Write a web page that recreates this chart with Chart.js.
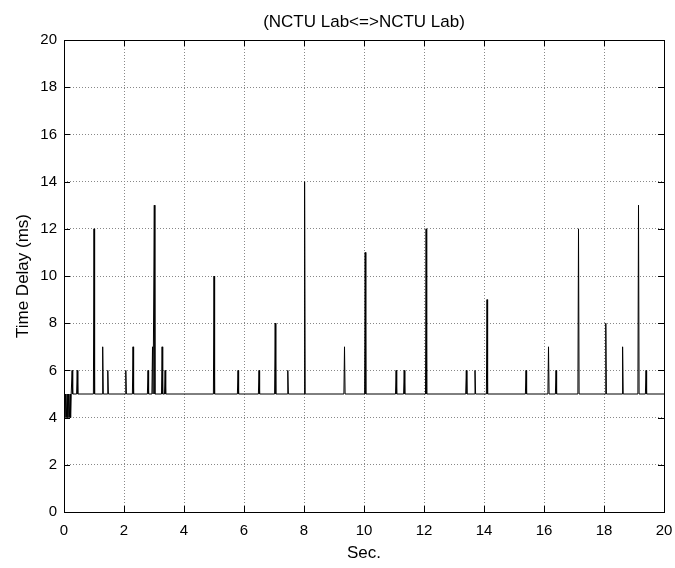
<!DOCTYPE html>
<html>
<head>
<meta charset="utf-8">
<script src="https://cdn.jsdelivr.net/npm/chart.js@4"></script>
<style>
  html, body { margin: 0; padding: 0; background: #fff; }
  #wrap { width: 675px; height: 568px; }
</style>
</head>
<body>
<div id="wrap"><canvas id="chart"></canvas></div>
<script>
const sec = [
  0, 0.03, 0.05, 0.08, 0.1, 0.13, 0.15, 0.18, 0.2, 0.22, 0.24,
  0.26, 0.27, 0.29, 0.42, 0.44, 0.46, 0.98, 1.0, 1.02,
  1.27, 1.29, 1.31, 1.44, 1.46, 1.48, 2.04, 2.06, 2.08,
  2.28, 2.3, 2.32, 2.78, 2.8, 2.82, 2.93, 2.95, 2.97,
  2.99, 3.01, 3.03, 3.25, 3.27, 3.29, 3.35, 3.37, 3.39,
  4.98, 5.0, 5.02, 5.78, 5.8, 5.82, 6.48, 6.5, 6.52,
  7.02, 7.04, 7.06, 7.44, 7.46, 7.48, 8.0, 8.02, 8.04,
  9.33, 9.35, 9.37, 10.02, 10.04, 10.06, 11.05, 11.07, 11.09,
  11.32, 11.34, 11.36, 12.05, 12.07, 12.09, 13.39, 13.41, 13.43,
  13.68, 13.7, 13.72, 14.08, 14.1, 14.12, 15.38, 15.4, 15.42,
  16.13, 16.15, 16.17, 16.38, 16.4, 16.42, 17.13, 17.15, 17.17,
  18.04, 18.06, 18.08, 18.6, 18.62, 18.64, 19.13, 19.15, 19.17,
  19.38, 19.4, 19.42, 20
];
const delay = [
  5, 4, 5, 4, 5, 4, 5, 4, 5, 4, 5,
  5, 6, 5, 5, 6, 5, 5, 12, 5,
  5, 7, 5, 5, 6, 5, 5, 6, 5,
  5, 7, 5, 5, 6, 5, 5, 7, 5,
  5, 13, 5, 5, 7, 5, 5, 6, 5,
  5, 10, 5, 5, 6, 5, 5, 6, 5,
  5, 8, 5, 5, 6, 5, 5, 14, 5,
  5, 7, 5, 5, 11, 5, 5, 6, 5,
  5, 6, 5, 5, 12, 5, 5, 6, 5,
  5, 6, 5, 5, 9, 5, 5, 6, 5,
  5, 7, 5, 5, 6, 5, 5, 12, 5,
  5, 8, 5, 5, 7, 5, 5, 13, 5,
  5, 6, 5, 5
];
const xTicks = [0, 2, 4, 6, 8, 10, 12, 14, 16, 18, 20];
const yTicks = [0, 2, 4, 6, 8, 10, 12, 14, 16, 18, 20];

const points = sec.map((t, i) => ({ x: t, y: delay[i] }));
const font = "Arial, 'Liberation Sans', Helvetica, sans-serif";

// box around the plot plus MATLAB style inward ticks
const boxPlugin = {
  id: "box",
  afterDraw(chart) {
    const { ctx, chartArea: a, scales } = chart;
    ctx.save();
    ctx.strokeStyle = "#000";
    ctx.lineWidth = 1;
    ctx.setLineDash([]);
    ctx.beginPath();
    xTicks.forEach(v => {
      const px = Math.round(scales.x.getPixelForValue(v)) + 0.5;
      ctx.moveTo(px, a.bottom); ctx.lineTo(px, a.bottom - 6);
      ctx.moveTo(px, a.top); ctx.lineTo(px, a.top + 6);
    });
    yTicks.forEach(v => {
      const py = Math.round(scales.y.getPixelForValue(v)) + 0.5;
      ctx.moveTo(a.left, py); ctx.lineTo(a.left + 6, py);
      ctx.moveTo(a.right, py); ctx.lineTo(a.right - 6, py);
    });
    ctx.stroke();
    ctx.strokeRect(Math.round(a.left) + 0.5, Math.round(a.top) + 0.5,
      Math.round(a.right - a.left), Math.round(a.bottom - a.top));
    ctx.restore();
  }
};

new Chart(document.getElementById("chart"), {
  type: "line",
  data: {
    datasets: [{
      data: points,
      borderColor: "#000",
      borderWidth: 1,
      pointRadius: 0,
      tension: 0,
      fill: false
    }]
  },
  options: {
    responsive: true,
    maintainAspectRatio: false,
    animation: false,
    layout: { padding: { left: 0, right: 11, top: 0, bottom: 0 } },
    plugins: {
      legend: { display: false },
      tooltip: { enabled: false },
      title: {
        display: true,
        fullSize: false,
        text: "(NCTU Lab<=>NCTU Lab)",
        color: "#000",
        font: { family: font, size: 17, weight: "normal" },
        padding: { top: 12, bottom: 7.6 }
      }
    },
    scales: {
      x: {
        type: "linear",
        min: 0,
        max: 20,
        afterFit(s) { s.height = 56; s.paddingLeft = 0; s.paddingRight = 0; },
        afterBuildTicks(s) { s.ticks = xTicks.map(v => ({ value: v })); },
        ticks: { color: "#000", font: { family: font, size: 15 }, padding: 10, maxRotation: 0 },
        grid: { color: "#888", drawTicks: false },
        border: { display: false, dash: [1, 2] },
        title: {
          display: true,
          text: "Sec.",
          color: "#000",
          font: { family: font, size: 17 },
          padding: { top: 0, bottom: 4 }
        }
      },
      y: {
        min: 0,
        max: 20,
        afterFit(s) { s.width = 64; s.paddingTop = 0; s.paddingBottom = 0; },
        afterBuildTicks(s) { s.ticks = yTicks.map(v => ({ value: v })); },
        ticks: { color: "#000", font: { family: font, size: 15 }, padding: 7 },
        grid: { color: "#888", drawTicks: false },
        border: { display: false, dash: [1, 2] },
        title: {
          display: true,
          text: "Time Delay (ms)",
          color: "#000",
          font: { family: font, size: 17 },
          padding: { top: 13, bottom: 0 }
        }
      }
    }
  },
  plugins: [boxPlugin]
});
</script>
</body>
</html>
